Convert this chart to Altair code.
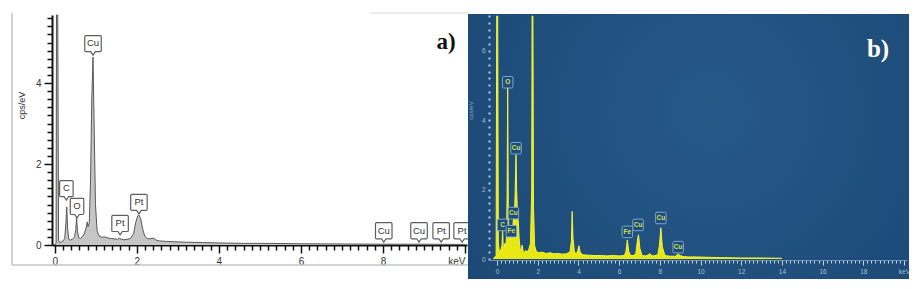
import altair as alt
import pandas as pd

# ---------------- Panel a) spectrum (keV, cps/eV) ----------------
a_kev = [0.00, 0.03, 0.04, 0.07, 0.09, 0.12, 0.16, 0.20, 0.24, 0.27, 0.29, 0.31, 0.34, 0.38,
         0.43, 0.48, 0.51, 0.53, 0.55, 0.58, 0.63, 0.68, 0.72, 0.76, 0.79, 0.81, 0.84, 0.87,
         0.90, 0.93, 0.96, 0.99, 1.03, 1.08, 1.15, 1.22, 1.30, 1.38, 1.46, 1.53, 1.58, 1.62,
         1.68, 1.76, 1.84, 1.92, 1.97, 2.02, 2.05, 2.09, 2.14, 2.19, 2.25, 2.32, 2.40, 2.47,
         2.55, 2.70, 2.90, 3.20, 3.60, 4.00, 4.60, 5.20, 6.00, 7.00, 8.00, 9.00, 10.0]
a_cps = [0.00, 0.05, 8.00, 8.00, 0.12, 0.06, 0.08, 0.10, 0.16, 0.55, 0.94, 0.40, 0.14, 0.12,
         0.15, 0.20, 0.38, 0.67, 0.35, 0.18, 0.16, 0.22, 0.28, 0.42, 0.57, 0.45, 0.55, 1.60,
         3.60, 4.64, 2.80, 1.00, 0.35, 0.22, 0.19, 0.20, 0.17, 0.16, 0.15, 0.14, 0.17, 0.14,
         0.13, 0.14, 0.16, 0.28, 0.55, 0.72, 0.74, 0.66, 0.40, 0.22, 0.16, 0.15, 0.17, 0.12,
         0.10, 0.09, 0.08, 0.07, 0.06, 0.05, 0.04, 0.04, 0.03, 0.025, 0.02, 0.02, 0.015]

a_lab_kev = [0.28, 0.54, 0.93, 1.59, 2.05, 8.02, 8.88, 9.42, 9.93]
a_lab_cps = [1.11, 0.67, 4.69, 0.25, 0.77, 0.07, 0.07, 0.07, 0.07]
a_lab_txt = ["C", "O", "Cu", "Pt", "Pt", "Cu", "Cu", "Pt", "Pt"]

# ---------------- Panel b) spectrum (keV, cps/eV) ----------------
b_kev = [-0.20, -0.05, -0.02, 0.03, 0.06, 0.10, 0.15, 0.20, 0.24, 0.27, 0.30, 0.34, 0.38, 0.42,
         0.46, 0.49, 0.52, 0.55, 0.58, 0.62, 0.66, 0.70, 0.74, 0.78, 0.81, 0.84, 0.88, 0.91,
         0.93, 0.96, 1.00, 1.04, 1.08, 1.13, 1.18, 1.23, 1.28, 1.34, 1.40, 1.48, 1.56, 1.64,
         1.70, 1.72, 1.76, 1.79, 1.84, 1.92, 2.05, 2.20, 2.40, 2.60, 2.80, 3.00, 3.20, 3.40,
         3.58, 3.65, 3.69, 3.73, 3.80, 3.90, 3.97, 4.02, 4.08, 4.20, 4.50, 4.80, 5.10, 5.40,
         5.70, 6.00, 6.25, 6.33, 6.40, 6.47, 6.56, 6.70, 6.82, 6.90, 6.95, 7.02, 7.12, 7.30,
         7.45, 7.50, 7.56, 7.70, 7.90, 7.98, 8.05, 8.12, 8.25, 8.50, 8.78, 8.90, 9.00, 9.15,
         9.40, 9.80, 10.3, 11.0, 12.0, 13.0, 14.0]
b_cps = [0.00, 0.10, 9.00, 9.00, 0.50, 0.25, 0.20, 0.30, 0.40, 0.85, 0.35, 0.30, 0.45, 0.35,
         0.60, 1.80, 5.00, 1.60, 0.60, 0.70, 0.55, 0.85, 0.60, 1.00, 1.20, 0.90, 1.80, 2.60,
         3.00, 2.00, 1.30, 1.10, 0.60, 0.30, 0.25, 0.40, 0.22, 0.18, 0.25, 0.20, 0.28, 0.45,
         2.00, 9.00, 9.00, 1.50, 0.40, 0.22, 0.18, 0.20, 0.16, 0.18, 0.15, 0.16, 0.14, 0.15,
         0.20, 0.50, 1.37, 0.60, 0.20, 0.15, 0.25, 0.38, 0.20, 0.12, 0.11, 0.10, 0.10, 0.09,
         0.10, 0.09, 0.10, 0.20, 0.55, 0.22, 0.10, 0.10, 0.15, 0.55, 0.70, 0.30, 0.10, 0.09,
         0.12, 0.16, 0.11, 0.09, 0.12, 0.40, 0.90, 0.35, 0.10, 0.08, 0.08, 0.14, 0.10, 0.07,
         0.06, 0.06, 0.05, 0.04, 0.03, 0.03, 0.02]

b_lab_kev = [0.27, 0.52, 0.93, 0.80, 0.70, 6.40, 6.93, 8.05, 8.90]
b_lab_cps = [0.78, 4.89, 2.99, 1.12, 0.60, 0.58, 0.78, 0.98, 0.14]
b_lab_txt = ["C", "O", "Cu", "Cu", "Fe", "Fe", "Cu", "Cu", "Cu"]

# tick positions (axis ticks every 0.2)
a_xticks = [round(0.2 * i, 1) for i in range(51)]
a_yticks = [round(0.2 * i, 1) for i in range(29)]
b_xticks = [round(0.2 * i, 1) for i in range(101)]
b_yticks = [round(0.2 * i, 1) for i in range(36)]

assert len(a_kev) == len(a_cps)
assert len(b_kev) == len(b_cps)

specA = pd.DataFrame({"kev": a_kev, "cps": a_cps})
labA = pd.DataFrame({"kev": a_lab_kev, "cps": a_lab_cps, "lab": a_lab_txt})
specB = pd.DataFrame({"kev": b_kev, "cps": b_cps})
labB = pd.DataFrame({"kev": b_lab_kev, "cps": b_lab_cps, "lab": b_lab_txt})
one = pd.DataFrame({"k": [0]})

major2 = "abs(datum.value/2 - round(datum.value/2)) < 0.01"

# ---------------- Panel a scales / axes ----------------
xA_scale = alt.Scale(domain=[-0.07, 10.05], range=[52, 467], nice=False, zero=False)
yA_scale = alt.Scale(domain=[0, 5.68], range=[245, 15], nice=False, zero=False, clamp=True)
xA_axis = alt.Axis(orient="bottom", offset=-44, values=a_xticks, grid=False, title=None,
                   domainColor="#111", domainWidth=2, tickColor="#111", tickWidth=1.5,
                   tickSize={"condition": {"test": major2, "value": 8}, "value": 5},
                   labelExpr=major2 + " ? (datum.value > 9.9 ? 'keV' : format(datum.value, 'd')) : ''",
                   labelAlign={"condition": {"test": "datum.value > 9.9", "value": "right"},
                               "value": "center"},
                   labelFont="Liberation Sans", labelFontSize=10, labelColor="#333",
                   labelPadding=3, labelOverlap=False, labelFlush=False, labelBound=False)
yA_axis = alt.Axis(orient="left", offset=-52, values=a_yticks, grid=False,
                   title="cps/eV", titleFont="Liberation Sans", titleFontSize=9,
                   titleFontWeight="normal", titleColor="#333", titleX=-26, titleY=105,
                   domainColor="#111", domainWidth=2, tickColor="#111", tickWidth=1.5,
                   tickSize={"condition": {"test": major2, "value": 8}, "value": 5},
                   labelExpr=major2 + " ? format(datum.value, 'd') : ''",
                   labelFont="Liberation Sans", labelFontSize=10, labelColor="#333",
                   labelPadding=3, labelOverlap=False, labelFlush=False, labelBound=False)
xA = alt.X("kev:Q", scale=xA_scale, axis=xA_axis)
yA = alt.Y("cps:Q", scale=yA_scale, axis=yA_axis)

areaA = alt.Chart(specA).mark_area(
    color="#c6c6c6", opacity=1, interpolate="linear",
    line={"color": "#585858", "strokeWidth": 1}
).encode(x=xA, y=yA)

pathA_narrow = ("M0,0 L-0.3,-0.45 L-0.75,-0.45 Q-0.9,-0.45 -0.9,-0.6 L-0.9,-2.45 Q-0.9,-2.6 -0.75,-2.6 "
                "L0.75,-2.6 Q0.9,-2.6 0.9,-2.45 L0.9,-0.6 Q0.9,-0.45 0.75,-0.45 L0.3,-0.45 Z")
pathA_wide = ("M0,0 L-0.3,-0.45 L-0.95,-0.45 Q-1.1,-0.45 -1.1,-0.6 L-1.1,-2.45 Q-1.1,-2.6 -0.95,-2.6 "
              "L0.95,-2.6 Q1.1,-2.6 1.1,-2.45 L1.1,-0.6 Q1.1,-0.45 0.95,-0.45 L0.3,-0.45 Z")

boxA = alt.Chart(labA).transform_calculate(
    w="length(datum.lab) > 1 ? 'wide' : 'narrow'"
).mark_point(filled=True, fill="white", stroke="#5e5e5e", strokeWidth=1.2,
             opacity=1, fillOpacity=1, strokeOpacity=1, size=225).encode(
    x=xA, y=yA,
    shape=alt.Shape("w:N", scale=alt.Scale(domain=["narrow", "wide"],
                                          range=[pathA_narrow, pathA_wide]), legend=None)
)
textA = alt.Chart(labA).mark_text(
    dy=-11.6, baseline="middle", align="center", font="Liberation Sans",
    fontSize=9.5, color="#333"
).encode(x=xA, y=yA, text="lab:N")

panelA = alt.layer(areaA, boxA, textA)

# frame of panel a
frame_left = alt.Chart(one).mark_rule(color="#c4c4c4", strokeWidth=1.5).encode(
    x=alt.value(12), y=alt.value(13), y2=alt.value(265))
frame_bottom = alt.Chart(one).mark_rule(color="#c4c4c4", strokeWidth=1.5).encode(
    x=alt.value(12), x2=alt.value(470), y=alt.value(265))
frame_top = alt.Chart(one).mark_rule(color="#dcdcdc", strokeWidth=1.2).encode(
    x=alt.value(370), x2=alt.value(470), y=alt.value(13))
tagA = alt.Chart(one).mark_text(
    text="a)", font="Liberation Serif", fontWeight="bold", fontSize=23, color="#111",
    align="center", baseline="alphabetic").encode(x=alt.value(446), y=alt.value(49))

# ---------------- Panel b ----------------
bgB = alt.Chart(one).mark_rect(
    fill=alt.RadialGradient(gradient="radial", x1=0.55, y1=0.42, r1=0, x2=0.55, y2=0.42, r2=0.8,
                            stops=[alt.GradientStop(offset=0, color="#265989"),
                                   alt.GradientStop(offset=1, color="#1a4571")]),
    opacity=1
).encode(x=alt.value(468), x2=alt.value(909), y=alt.value(14), y2=alt.value(279))

xB_scale = alt.Scale(domain=[-0.35, 20.15], range=[490, 907], nice=False, zero=False)
yB_scale = alt.Scale(domain=[0, 7.0], range=[259, 16], nice=False, zero=False, clamp=True)
xB_axis = alt.Axis(orient="bottom", offset=-29, values=b_xticks, grid=False, title=None,
                   zindex=1,
                   domainColor="#6f93b8", domainWidth=1, tickColor="#c6d6e6", tickWidth=1,
                   tickSize={"condition": {"test": major2, "value": 5}, "value": 3},
                   labelExpr=major2 + " ? (datum.value > 19.9 ? 'keV' : format(datum.value, 'd')) : ''",
                   labelFont="Liberation Sans", labelFontSize=6.5, labelColor="#a9bfd5",
                   labelPadding=3, labelOverlap=False, labelFlush=False, labelBound=False)
yB_axis = alt.Axis(orient="left", offset=-490, values=b_yticks, grid=False,
                   zindex=1,
                   title="cps/eV", titleFont="Liberation Sans", titleFontSize=6,
                   titleFontWeight="normal", titleColor="#8fa9c4", titleX=-17, titleY=110,
                   domain=False, tickColor="#b9cde2", tickWidth=2,
                   tickSize=2,
                   labelExpr=major2 + " ? format(datum.value, 'd') : ''",
                   labelFont="Liberation Sans", labelFontSize=6.5, labelColor="#a9bfd5",
                   labelPadding=3, labelOverlap=False, labelFlush=False, labelBound=False)
xB = alt.X("kev:Q", scale=xB_scale, axis=xB_axis)
yB = alt.Y("cps:Q", scale=yB_scale, axis=yB_axis)

areaB = alt.Chart(specB).mark_area(
    color="#e8e814", opacity=1, interpolate="linear",
    line={"color": "#f4f43a", "strokeWidth": 1}
).encode(x=xB, y=yB)

pathB = ("M-0.75,-1.1 L0.75,-1.1 Q1,-1.1 1,-0.85 L1,0.85 Q1,1.1 0.75,1.1 "
         "L-0.75,1.1 Q-1,1.1 -1,0.85 L-1,-0.85 Q-1,-1.1 -0.75,-1.1 Z")
boxB = alt.Chart(labB).mark_point(
    shape=pathB, size=110, filled=True, fill="#1f4d7b", stroke="#7fa6cb", strokeWidth=1,
    opacity=1, fillOpacity=1, strokeOpacity=1, yOffset=-7
).encode(x=xB, y=yB)
textB = alt.Chart(labB).mark_text(
    dy=-7, baseline="middle", align="center", font="Liberation Sans", fontWeight="bold",
    fontSize=6.5, color="#d3e24a"
).encode(x=xB, y=yB, text="lab:N")

panelB = alt.layer(areaB, boxB, textB)

tagB = alt.Chart(one).mark_text(
    text="b)", font="Liberation Serif", fontWeight="bold", fontSize=25, color="#ffffff",
    align="center", baseline="alphabetic").encode(x=alt.value(878), y=alt.value(57))

chart = alt.layer(
    frame_left, frame_bottom, frame_top, panelA, tagA, bgB, panelB, tagB
).resolve_scale(x="independent", y="independent").properties(
    width=918, height=289, autosize=alt.AutoSizeParams(type="none"), padding=0,
    background="white"
).configure_view(stroke=None)

chart.save("out.html", embed_options={"renderer": "svg", "actions": False})
